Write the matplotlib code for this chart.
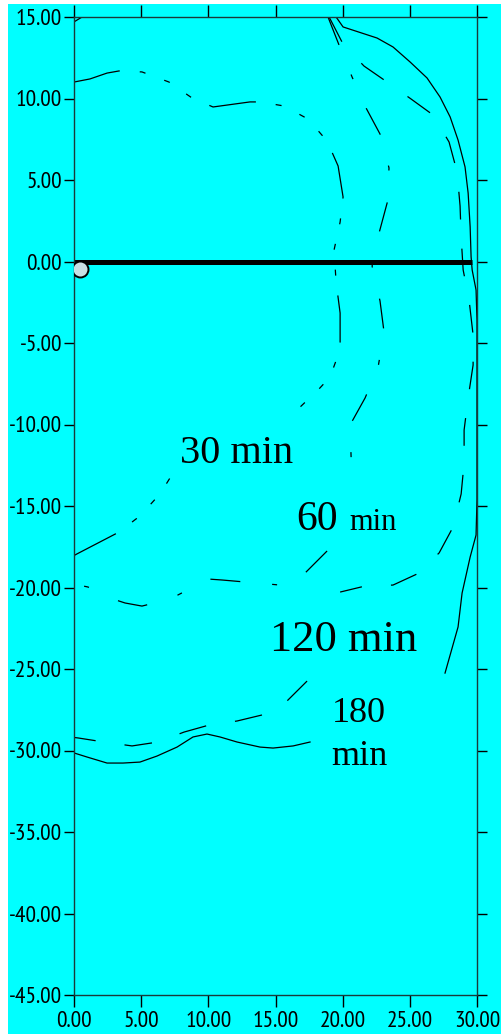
import numpy as np
import matplotlib.pyplot as plt
from matplotlib import font_manager as fm
from matplotlib.patches import Rectangle
from matplotlib.ticker import FuncFormatter

nan = np.nan

# contour lines (x, y); nan = break in the line
t30_x = [0.00, 1.19, 2.46, 3.35, 5.06, 7.07, 8.79, 10.35, 13.10, 13.85, 15.64, 17.42,
         18.84, 19.66, 20.03, 19.81, 19.36, 19.51, 19.81, 19.81, 19.66, 19.06, 18.17, 16.83,
         nan, 0.00, 0.22, 3.35, 4.91, 6.40, 7.52]
t30_y = [11.01, 11.20, 11.56, 11.69, 11.63, 11.01, 10.03, 9.48, 9.79, 9.79, 9.54, 8.74,
         7.39, 5.86, 3.96, 2.42, 0.71, -1.26, -3.16, -4.94, -5.74, -7.09, -7.88, -8.93,
         nan, -18.04, -17.94, -16.60, -15.61, -14.26, -12.79]

t60_x = [18.91, 19.73, 20.70, 21.74, 22.78, 23.45, 23.31, 22.71, 22.19, 22.78, 23.08,
         22.64, 21.67, 20.55, 20.63,
         nan, 18.84, 17.13, 15.34, 11.02, 9.98, 9.16, 7.15, 5.06, 3.80, 3.13, 1.04, 0.00]
t60_y = [15.00, 13.28, 11.32, 9.42, 7.82, 5.74, 3.59, 1.75, -0.28, -2.42, -4.33,
         -6.47, -8.37, -10.03, -12.06,
         nan, -17.76, -19.17, -19.85, -19.54, -19.48, -19.85, -20.71, -21.14, -20.95, -20.77,
         -19.97, -19.79]

t120_x = [18.99, 20.03, 21.59, 23.31, 25.09, 26.73, 27.92, 28.52, 28.74, 28.82, 28.97,
          29.41, 29.71, 29.71, 29.34, 29.04, 29.04, 28.82, 28.22, 27.18, 25.54, 23.75,
          21.67, 19.81,
          nan, 17.35, 15.86, 14.00, 12.14, 10.05, 8.19, 6.25, 4.32, 2.23, 0.30, 0.00]
t120_y = [15.00, 13.34, 11.99, 11.01, 9.97, 8.99, 7.33, 5.49, 3.40, 1.50, -0.52,
          -2.36, -4.51, -6.35, -8.37, -10.34, -12.36, -14.26, -16.29, -17.88, -19.17, -19.85,
          -19.91, -20.28,
          nan, -25.74, -26.96, -27.82, -28.19, -28.44, -28.87, -29.48, -29.72, -29.48, -29.23,
          -29.20]

t180_x = [19.51, 20.03, 22.56, 23.75, 25.02, 26.28, 27.25, 28.00, 28.59, 29.11, 29.34,
          29.49, 29.56, 29.64, 29.93, 30.00, 30.00, 29.93, 29.49, 28.89, 28.59, 27.62,
          nan, 17.57, 16.31, 14.82, 13.85, 12.14, 10.87, 9.90, 8.86, 7.67, 6.18, 4.91,
          3.65, 2.46, 0.97, 0.00]
t180_y = [15.00, 14.39, 13.71, 13.16, 12.24, 11.26, 10.09, 8.87, 7.45, 5.80, 4.20,
          2.12, 0.28, -0.52, -1.75, -3.60, -14.60, -16.78, -18.13, -20.34, -22.42, -25.25,
          nan, -29.48, -29.72, -29.85, -29.79, -29.48, -29.17, -28.99, -29.17, -29.79, -30.34,
          -30.71, -30.77, -30.77, -30.40, -30.15]

corner_x = [0.00, 0.60]
corner_y = [14.70, 15.00]

# thick bar and the point at its left end
bar_x = [0.00, 29.63]
bar_y = [0.00, 0.00]
point_x = [0.48]
point_y = [-0.46]

x_ticks = [0, 5, 10, 15, 20, 25, 30]
y_ticks = [15, 10, 5, 0, -5, -10, -15, -20, -25, -30, -35, -40, -45]

cyan = '#00ffff'
plt.rcParams['lines.scale_dashes'] = False

# narrow sans for the tick labels, whichever one is installed
have = {f.name for f in fm.fontManager.ttflist}
tick_font = fm.FontProperties(family='DejaVu Sans', stretch='condensed')
for fam in ['Liberation Sans Narrow', 'Arial Narrow', 'PT Sans Narrow', 'Pragati Narrow',
            'Roboto Condensed', 'Archivo Narrow', 'Encode Sans Condensed']:
    if fam in have:
        tick_font = fm.FontProperties(family=fam)
        break

fig = plt.figure(figsize=(5.01, 10.34), dpi=100, facecolor='white')
fig.patches.append(Rectangle((8 / 501, 0), 1, 1030 / 1034, transform=fig.transFigure,
                             facecolor=cyan, edgecolor='none', zorder=-10))
ax = fig.add_axes([74 / 501, 39 / 1034, 403 / 501, 978 / 1034])
ax.set_facecolor(cyan)

# size the tick font so that "-45.00" is about 53 px wide
probe = fig.text(0, 0, '-45.00', fontproperties=tick_font, fontsize=20)
w = probe.get_window_extent(fig.canvas.get_renderer()).width
probe.remove()
tick_size = min(20 * 53 / w, 17)


def draw(xs, ys, style):
    # plot each unbroken piece on its own so the dash pattern restarts
    xs = np.array(xs, dtype=float)
    ys = np.array(ys, dtype=float)
    cuts = np.where(np.isnan(xs))[0]
    start = 0
    for c in list(cuts) + [len(xs)]:
        ax.plot(xs[start:c], ys[start:c], color='black', lw=0.9, linestyle=style)
        start = c + 1


draw(t30_x, t30_y, (0, (34, 14.4, 4.3, 14.4, 4.3, 14.4, 4.3, 14.4)))
draw(t60_x, t60_y, (0, (21.6, 23, 3.6, 23)))
draw(t120_x, t120_y, (0, (20, 21)))
draw(t180_x, t180_y, '-')
ax.plot(corner_x, corner_y, color='black', lw=0.9)

ax.plot(bar_x, bar_y, color='black', lw=3.6, solid_capstyle='butt')
ax.plot(point_x, point_y, 'o', ms=11.5, mfc='#c8dfe3', mec='black', mew=1.4, zorder=5)

serif = 'Liberation Serif'
ax.text(7.89, -12.36, '30 min', family=serif, fontsize=29, va='baseline')
ax.text(16.53, -16.47, '60', family=serif, fontsize=30, va='baseline')
ax.text(20.48, -16.47, 'min', family=serif, fontsize=22, va='baseline')
ax.text(14.59, -23.9, '120 min', family=serif, fontsize=32, va='baseline')
ax.text(21.22, -28.25, '180', family=serif, fontsize=26, va='baseline', ha='center')
ax.text(21.22, -30.9, 'min', family=serif, fontsize=26, va='baseline', ha='center')

ax.set_xlim(0, 30)
ax.set_ylim(-45, 15)
ax.set_xticks(x_ticks)
ax.set_yticks(y_ticks)
fmt = FuncFormatter(lambda v, p: f'{v:.2f}')
ax.xaxis.set_major_formatter(fmt)
ax.yaxis.set_major_formatter(fmt)
ax.tick_params(axis='x', direction='out', length=8.6, width=1, top=True, bottom=True, pad=3)
ax.tick_params(axis='y', direction='out', length=7.2, width=1, left=True, right=True, pad=1.5)
for lab in ax.get_xticklabels() + ax.get_yticklabels():
    lab.set_fontproperties(tick_font)
    lab.set_fontsize(tick_size)
for s in ax.spines.values():
    s.set_linewidth(1)
    s.set_color('#1a3a3a')

fig.savefig('out.png', dpi=100, facecolor=fig.get_facecolor())
